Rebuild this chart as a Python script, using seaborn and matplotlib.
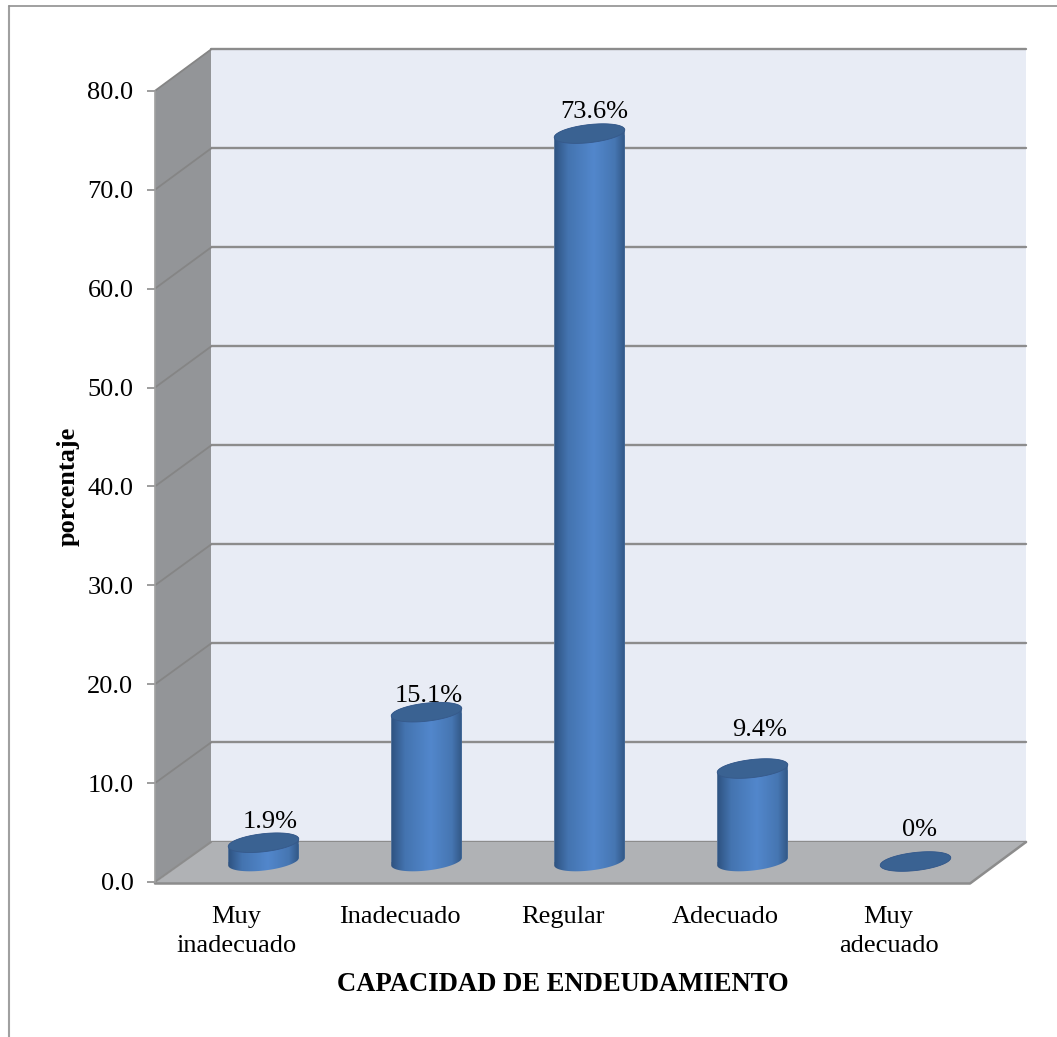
import matplotlib
matplotlib.use("Agg")
import matplotlib.pyplot as plt
import numpy as np
import pandas as pd
import seaborn as sns
from matplotlib.colors import LinearSegmentedColormap
from matplotlib.patches import Polygon
from matplotlib.path import Path
from matplotlib.transforms import IdentityTransform

categories = ["Muy\ninadecuado", "Inadecuado", "Regular", "Adecuado", "Muy\nadecuado"]
percentages = [1.9, 15.1, 73.6, 9.4, 0.0]
value_labels = ["1.9%", "15.1%", "73.6%", "9.4%", "0%"]
y_ticks = [0, 10, 20, 30, 40, 50, 60, 70, 80]
y_tick_labels = ["0.0", "10.0", "20.0", "30.0", "40.0", "50.0", "60.0", "70.0", "80.0"]
x_title = "CAPACIDAD DE ENDEUDAMIENTO"
y_title = "porcentaje"

# label placement in pixels, relative to the top of each cylinder (style only)
label_shift = [(7, 21), (2, 16), (5, 22), (7, 39), (4, 31)]

sns.set_style("white")
plt.rcParams["font.family"] = ["Liberation Serif", "DejaVu Serif"]
FS = 19
W, H = 1057, 1037
GRID = "#8C8C8C"

fig = plt.figure(figsize=(W / 100, H / 100), dpi=100, facecolor="white")


def box(left, top, right, bottom):
    return [left / W, (H - bottom) / H, (right - left) / W, (bottom - top) / H]


# back wall
ax_back = fig.add_axes(box(211, 49, 1026, 841.5), zorder=1)
ax_back.set_facecolor("#E8ECF5")
ax_back.set_xlim(0, 1)
ax_back.set_ylim(0, 80)
ax_back.set_yticks(y_ticks)
ax_back.set_xticks([])
ax_back.tick_params(left=False, labelleft=False)
ax_back.grid(axis="y", color=GRID, lw=1.7)
for ln in ax_back.get_ygridlines():
    ln.set_clip_on(False)
sns.despine(ax=ax_back, left=True, bottom=True)

# side wall, floor and outer frame, drawn in pixel space
ax_bg = fig.add_axes([0, 0, 1, 1], zorder=2)
ax_bg.set_xlim(0, W)
ax_bg.set_ylim(H, 0)
ax_bg.axis("off")
ax_bg.plot([9, 9], [1037, 6], color="#A0A0A0", lw=1.5)
ax_bg.plot([9, 1057], [6, 6], color="#909090", lw=1.2)
ax_bg.add_patch(Polygon([(155, 91), (211, 49), (211, 842), (155, 882)],
                        closed=True, fc="#939598", ec="none"))
ax_bg.add_patch(Polygon([(155, 883), (211, 842), (1026, 842), (970, 883)],
                        closed=True, fc="#B0B2B5", ec="none"))
for v in y_ticks[1:]:
    ax_bg.plot([155, 211], [882 - v * 9.89, 841.5 - v * 9.9], color="#858585", lw=1.3)
ax_bg.plot([155, 211], [882, 842], color=GRID, lw=1.5)
ax_bg.plot([155, 970, 1026], [883.5, 883.5, 842], color=GRID, lw=1.8)

# front plane: carries the axes, ticks and titles
ax = fig.add_axes(box(155, 91, 970, 882), zorder=3)
ax.patch.set_alpha(0)
ax.set_xlim(-0.5, 4.5)
ax.set_ylim(0, 80)
ax.set_yticks(y_ticks)
ax.set_yticklabels(y_tick_labels, fontsize=FS, color="black")
ax.set_xticks(range(len(categories)))
ax.set_xticklabels(categories, fontsize=FS, color="black", linespacing=1.42)
ax.tick_params(axis="y", left=True, length=5.5, width=1.2, color=GRID, pad=10)
ax.tick_params(axis="x", bottom=False, length=0, pad=17)
for side in ["top", "right", "bottom"]:
    ax.spines[side].set_visible(False)
ax.spines["left"].set_color("#A0A0A0")
ax.spines["left"].set_linewidth(1.2)
ax.set_xlabel(x_title, fontsize=FS + 0.2, fontweight="bold", va="center", color="black")
ax.xaxis.set_label_coords(0.5, -0.129)
ax.set_ylabel(y_title, fontsize=FS, fontweight="bold", va="center", color="black")
ax.yaxis.set_label_coords(-0.107, 0.5)

# cylinders: same scales as the front plane, moved back onto the floor
ax_bars = fig.add_axes(box(182, 70.3, 997, 861.5), zorder=4)
ax_bars.patch.set_alpha(0)
df = pd.DataFrame({"categoria": categories, "porcentaje": percentages})
sns.barplot(data=df, x="categoria", y="porcentaje", ax=ax_bars, color="#4F81C4",
            width=0.435, saturation=1, errorbar=None)
ax_bars.set_xlim(-0.5, 4.5)
ax_bars.set_ylim(0, 80)
ax_bars.axis("off")

cyl = LinearSegmentedColormap.from_list(
    "cyl",
    [(0, "#264569"), (0.05, "#2F5483"), (0.22, "#4474B0"), (0.55, "#5287CC"),
     (0.82, "#4676B2"), (0.95, "#315785"), (1, "#28476B")])
grad = np.linspace(0, 1, 256).reshape(1, -1)

A, B, TILT = 35.5, 9.0, np.deg2rad(6.5)


def ell(cx, cy, t0, t1, n=60):
    t = np.linspace(t0, t1, n)
    x, y = A * np.cos(t), B * np.sin(t)
    return np.column_stack([cx + x * np.cos(TILT) - y * np.sin(TILT),
                            cy + x * np.sin(TILT) + y * np.cos(TILT)])


for bar, val, txt, (dx, dy) in zip(ax_bars.patches, percentages, value_labels, label_shift):
    xc = bar.get_x() + bar.get_width() / 2
    px, py0 = ax_bars.transData.transform((xc, 0))
    _, py1 = ax_bars.transData.transform((xc, bar.get_height()))
    outline = np.vstack([ell(px, py0, np.pi, 2 * np.pi), ell(px, py1, 0, np.pi)])
    shape = Path(outline, closed=False)
    bar.set_clip_path(shape, IdentityTransform())
    im = ax_bars.imshow(grad, cmap=cyl, aspect="auto", zorder=3,
                        extent=(bar.get_x() - 0.02, bar.get_x() + bar.get_width() + 0.02,
                                -2, bar.get_height() + 2))
    im.set_clip_box(fig.bbox)
    im.set_clip_path(shape, IdentityTransform())
    cap = Polygon(ell(px, py1, 0, 2 * np.pi, 90), closed=True, fc="#3A6292", ec="#36598A",
                  lw=0.6, transform=IdentityTransform(), zorder=4, clip_on=False)
    ax_bars.add_patch(cap)
    ax_bars.annotate(txt, xy=(xc, val), xytext=(dx, dy), textcoords="offset pixels",
                     ha="center", va="center", fontsize=FS, color="black",
                     annotation_clip=False, zorder=5)
ax_bars.set_xlim(-0.5, 4.5)
ax_bars.set_ylim(0, 80)

fig.savefig("out.png", dpi=100, facecolor="white")
